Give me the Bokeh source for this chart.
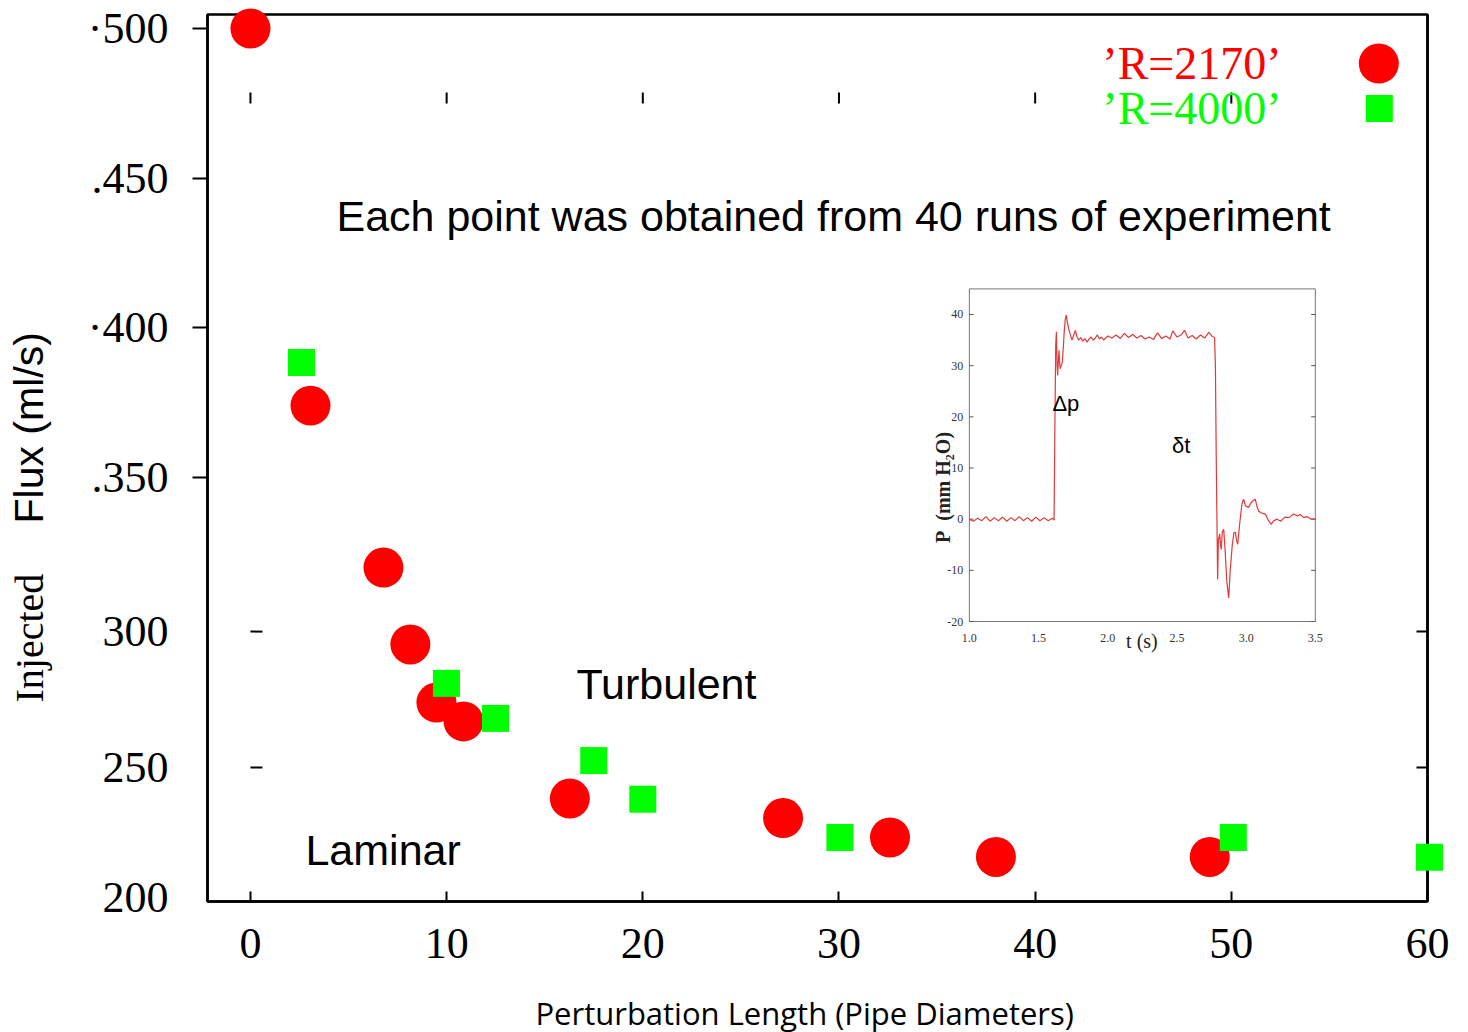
import numpy as np
from bokeh.plotting import figure
from bokeh.models import (Range1d, FixedTicker, LinearAxis, CustomJSTickFormatter)
from bokeh.core.properties import value
from bokeh.embed import file_html
from bokeh.resources import INLINE

# ---------------- data ----------------
r2170_x = [0.0, 3.06, 6.78, 8.15, 9.48, 10.86, 16.28, 27.15, 32.6, 38.0, 48.9]
r2170_y = [0.500, 0.374, 0.3199, 0.2942, 0.2748, 0.2685, 0.2427, 0.2362, 0.2297, 0.2232, 0.2232]
r4000_x = [2.60, 9.99, 12.49, 17.5, 20.0, 30.05, 50.1, 60.1]
r4000_y = [0.3884, 0.2812, 0.2695, 0.2554, 0.2425, 0.2297, 0.2297, 0.2231]

x_ticks = [0, 10, 20, 30, 40, 50, 60]
y_ticks = [0.2097, 0.2531, 0.2985, 0.350, 0.400, 0.450, 0.500]
y_tick_labels = ["200", "250", "300", ".350", "\u00b7400", ".450", "\u00b7500"]
legend_labels = ["\u2019R=2170\u2019", "\u2019R=4000\u2019"]

# inset: pressure trace
trace_t = [1.00, 1.03, 1.06, 1.09, 1.12, 1.15, 1.18, 1.21, 1.24, 1.27, 1.30, 1.33, 1.36, 1.39,
           1.42, 1.45, 1.48, 1.51, 1.54, 1.57, 1.60, 1.612,
           1.618, 1.624, 1.629, 1.634, 1.638, 1.643, 1.648, 1.652, 1.657, 1.665, 1.672, 1.680,
           1.686, 1.693, 1.700, 1.708, 1.718, 1.730, 1.742, 1.754, 1.766, 1.778, 1.790, 1.805,
           1.82, 1.835, 1.85, 1.865, 1.88, 1.895, 1.91, 1.925, 1.94, 1.955, 1.97, 2.00, 2.03,
           2.06, 2.09, 2.12, 2.15, 2.18, 2.21, 2.24, 2.27, 2.30, 2.33, 2.36, 2.39, 2.42, 2.45,
           2.47, 2.50, 2.53, 2.555, 2.58, 2.61, 2.64, 2.67, 2.70, 2.73, 2.755, 2.772,
           2.778, 2.784, 2.790, 2.794, 2.800, 2.809, 2.815, 2.820, 2.828, 2.838, 2.848, 2.860,
           2.874, 2.885, 2.900, 2.912, 2.922, 2.930, 2.939, 2.955, 2.970, 2.982, 2.995, 3.018,
           3.035, 3.05, 3.066, 3.078, 3.09, 3.11, 3.139, 3.16, 3.18, 3.20, 3.223, 3.25, 3.28,
           3.31, 3.343, 3.37, 3.39, 3.416, 3.44, 3.47, 3.50]
trace_p = [0.0, -0.4, 0.2, -0.3, 0.5, -0.4, 0.3, -0.3, 0.4, -0.4, 0.3, -0.3, 0.5, -0.3,
           0.3, -0.4, 0.4, -0.3, 0.3, -0.3, 0.2, -0.2,
           18.0, 34.0, 36.6, 30.0, 28.1, 31.0, 33.0, 30.5, 29.4, 30.2, 30.7, 34.0,
           36.9, 39.0, 39.9, 38.5, 37.2, 36.0, 35.0, 36.0, 36.9, 35.6, 35.0, 35.5,
           34.8, 35.3, 34.6, 35.2, 35.6, 35.0, 35.4, 36.0, 35.2, 35.6, 35.0, 35.8, 35.4,
           36.0, 35.3, 36.3, 35.5, 36.1, 35.4, 35.9, 35.2, 35.6, 35.1, 36.4, 35.3, 35.8, 35.2,
           36.8, 35.6, 36.0, 36.9, 35.4, 35.9, 35.2, 36.0, 35.4, 36.5, 35.7, 35.5,
           30.0, 12.0, -2.0, -11.8, -4.0, -2.9, -5.0, -5.9, -2.5, -2.0, -6.0, -12.0,
           -15.4, -10.0, -5.0, -2.6, -2.6, -4.0, -4.9, -0.5, 3.0, 3.9, 2.6, 2.3,
           3.2, 3.6, 3.9, 2.5, 1.6, 1.2, 1.0, -0.2, -1.0, -0.3, 0.0, -0.4, 0.4,
           0.3, 1.0, 0.6, 0.9, 0.3, 0.5, 0.0, 0.0]
inset_x_ticks = [1.0, 1.5, 2.0, 2.5, 3.0, 3.5]
inset_x_labels = ["1.0", "1.5", "2.0", "2.5", "3.0", "3.5"]
inset_y_ticks = [-20, -10, 0, 10, 20, 30, 40]
inset_y_labels = ["-20", "-10", "0", "10", "20", "30", "40"]

SERIF = "Liberation Serif"
SANS = "Liberation Sans"

# pixel helpers (frame: x 207..1427, y 14..901)
def dx(px):
    return (px - 250) / 19.62

def dy(py):
    return 0.5 - (py - 28) / 2993.0

p = figure(width=1468, height=1032, output_backend="svg", toolbar_location=None,
           x_range=Range1d(-2.19, 60.0), y_range=Range1d(dy(901), dy(14)),
           min_border_left=207, min_border_right=41, min_border_top=14, min_border_bottom=131)
p.grid.visible = False
p.background_fill_color = "white"
p.border_fill_color = "white"
p.outline_line_color = "black"
p.outline_line_width = 2.5

empty = CustomJSTickFormatter(code="return ''")

# bottom axis
xa = p.xaxis[0]
xa.ticker = FixedTicker(ticks=x_ticks)
xa.major_tick_in = 10
xa.major_tick_out = 0
xa.minor_tick_line_color = None
xa.major_tick_line_width = 2
xa.axis_line_width = 2.5
xa.major_label_text_font = SERIF
xa.major_label_text_font_size = "44px"
xa.major_label_text_color = "black"
xa.major_label_standoff = 27

# inner left axis: tick marks only
ya = p.yaxis[0]
ya.ticker = FixedTicker(ticks=y_ticks[3:])
ya.formatter = empty
ya.major_tick_in = 0
ya.major_tick_out = 15
ya.major_tick_line_width = 2
ya.minor_tick_line_color = None
ya.axis_line_width = 2.5
ya.major_label_standoff = 0

# outer left axis: labels only
lab_fmt = CustomJSTickFormatter(args=dict(tvals=y_ticks, tlabels=y_tick_labels), code="""
let best = 0;
for (let i = 0; i < tvals.length; i++) {
  if (Math.abs(tvals[i] - tick) < Math.abs(tvals[best] - tick)) best = i;
}
return tlabels[best];
""")
ya2 = LinearAxis(ticker=FixedTicker(ticks=y_ticks), formatter=lab_fmt,
                 major_tick_line_color=None, minor_tick_line_color=None,
                 axis_line_color=None, major_tick_in=0, major_tick_out=0,
                 major_label_text_font=SERIF, major_label_text_font_size="44px",
                 major_label_text_color="black", major_label_standoff=24)
p.add_layout(ya2, "left")

# right axis: two inward ticks
ra = LinearAxis(ticker=FixedTicker(ticks=y_ticks[1:3]), formatter=empty,
                major_tick_in=11, major_tick_out=0, major_tick_line_width=2,
                minor_tick_line_color=None, axis_line_width=2.5, major_label_standoff=0)
p.add_layout(ra, "right")

# axis titles (drawn as unclipped overlay text)
p.text(x=[dx(29)], y=[dy(702)], text=["Injected"], angle=np.pi / 2,
       text_font=value(SERIF), text_font_size="40px", text_color="black",
       text_align="left", text_baseline="middle", level="overlay")
p.text(x=[dx(29)], y=[dy(523)], text=["Flux (ml/s)"], angle=np.pi / 2,
       text_font=value(SANS), text_font_size="41px", text_color="black",
       text_align="left", text_baseline="middle", level="overlay")
p.text(x=[dx(535)], y=[dy(1012)], text=["Perturbation Length (Pipe Diameters)"],
       text_font=value("Open Sans"), text_font_size="31px", text_color="black",
       text_align="left", text_baseline="middle", level="overlay")

# stray tick marks inside the frame
p.segment(x0=x_ticks[:-1], y0=[dy(92)] * 6, x1=x_ticks[:-1], y1=[dy(103)] * 6,
          line_color="black", line_width=2)
p.segment(x0=[dx(250)] * 2, y0=y_ticks[1:3], x1=[dx(262)] * 2, y1=y_ticks[1:3],
          line_color="black", line_width=2)

# annotations
p.text(x=[dx(336)], y=[dy(215)], text=["Each point was obtained from 40 runs of experiment"],
       text_font=value(SANS), text_font_size="43px", text_color="black",
       text_align="left", text_baseline="middle")
p.text(x=[dx(576)], y=[dy(683)], text=["Turbulent"],
       text_font=value(SANS), text_font_size="43px", text_color="black",
       text_align="left", text_baseline="middle")
p.text(x=[dx(305)], y=[dy(849)], text=["Laminar"],
       text_font=value(SANS), text_font_size="43px", text_color="black",
       text_align="left", text_baseline="middle")

# legend
p.text(x=[dx(1102)], y=[dy(63)], text=[legend_labels[0]], text_font=value(SERIF),
       text_font_size="46px", text_color="#ff0000", text_align="left", text_baseline="middle")
p.text(x=[dx(1102)], y=[dy(108)], text=[legend_labels[1]], text_font=value(SERIF),
       text_font_size="46px", text_color="#00ff00", text_align="left", text_baseline="middle")
p.scatter(x=[dx(1378.5)], y=[dy(63)], marker="circle", size=40, fill_color="#ff0000", line_color=None)
p.scatter(x=[dx(1379)], y=[dy(108)], marker="square", size=27, fill_color="#00ff00", line_color=None)

# inset
ins = p.subplot(x_source=Range1d(1.0, 3.5), y_source=Range1d(-20, 45),
                x_target=Range1d(dx(969), dx(1315)), y_target=Range1d(dy(621), dy(288.4)))
ins.quad(left=[1.0], right=[3.5], bottom=[-20], top=[45], fill_color="white",
         line_color="#777777", line_width=1)
ins.segment(x0=[1.0] * 7, y0=inset_y_ticks, x1=[1.03] * 7, y1=inset_y_ticks, line_color="#555555", line_width=1)
ins.segment(x0=[3.47] * 7, y0=inset_y_ticks, x1=[3.5] * 7, y1=inset_y_ticks, line_color="#555555", line_width=1)
ins.line(trace_t, trace_p, line_color="#e03a3a", line_width=1.2)
ins.text(x=[0.955] * 7, y=inset_y_ticks, text=inset_y_labels, text_font=value(SERIF),
         text_font_size="12px", text_color="#333333", text_align="right", text_baseline="middle")
ins.text(x=inset_x_ticks, y=[-23.3] * 6, text=inset_x_labels, text_font=value(SERIF),
         text_font_size="12px", text_color="#333333", text_align="center", text_baseline="middle")
ins.text(x=[2.247], y=[-23.8], text=["t (s)"], text_font=value(SERIF), text_font_size="20px",
         text_color="#222222", text_align="center", text_baseline="middle")
ins.text(x=[0.812], y=[6.2], text=["P\u2002(mm H\u2082O)"], text_font=value(SERIF), text_font_size="20px",
         text_font_style="bold", text_color="#222222", text_align="center", text_baseline="middle",
         angle=np.pi / 2)
ins.text(x=[1.6], y=[22.6], text=["\u0394p"], text_font=value(SANS), text_font_size="22px",
         text_color="black", text_align="left", text_baseline="middle")
ins.text(x=[2.464], y=[14.4], text=["\u03b4t"], text_font=value(SANS), text_font_size="22px",
         text_color="black", text_align="left", text_baseline="middle")

# data series
p.scatter(r2170_x, r2170_y, marker="circle", size=40, fill_color="#ff0000", line_color=None, level="overlay")
p.scatter(r4000_x, r4000_y, marker="square", size=27, fill_color="#00ff00", line_color=None, level="overlay")

open("out.html", "w").write(file_html(p, INLINE))
